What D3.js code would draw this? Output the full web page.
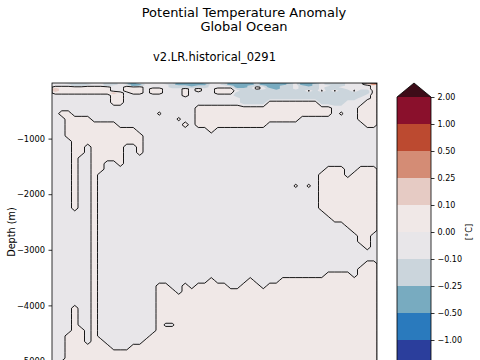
<!DOCTYPE html>
<html><head><meta charset="utf-8">
<script src="https://cdn.jsdelivr.net/npm/d3@7"></script>
<style>body{margin:0;background:#fff}svg{display:block;font-family:"DejaVu Sans",sans-serif}</style>
</head><body><svg id="c" width="480" height="360"></svg>
<script>
const titleLines = ["Potential Temperature Anomaly", "Global Ocean"];
const subtitle = "v2.LR.historical_0291";
const yLabel = "Depth (m)";
const cbLabel = "[°C]";
const levels = [-2, -1, -0.5, -0.25, -0.1, 0, 0.1, 0.25, 0.5, 1, 2];
const bandColors = ["#2b3e9c", "#2a7abd", "#78abc0", "#cbd5dc", "#e8e6e9", "#f0e8e7", "#e6cbc4", "#d48c75", "#bc4a30", "#8a102c"];
const extendColor = "#3d0c18";
const depthTicks = [-1000, -2000, -3000, -4000, -5000];
const depthMax = 5360;
// layer boundaries (m) of the gridded anomaly rows
const depthEdges = [0,10,20,40,60,90,120,160,200,250,300,400,500,600,700,800,900,1000,1100,1200,1300,1400,1500,1600,1700,1800,1900,2000,2100,2200,2300,2400,2500,2600,2700,2800,2900,3000,3100,3200,3300,3400,3500,3600,3700,3800,3900,4000,4100,4200,4300,4400,4500,4600,4700,4800,4900,5000,5100];
// anomaly class codes (°C)
const codeValues = {g: -0.05, h: -0.02, q: 0.02, p: 0.05, r: 0.17, R: 0.35, b: -0.17, B: -0.35};
const G = "gggggggggg", P = "pppppppppp";
// one string per depth layer, one character per time bin (50 bins)
const anomalyRows = [
"gggbbbggbb"+"ggBggggggB"+"BBBBgggBBB"+"BgBBBBBgBB"+"BgbbbgggrR",
"ggbbbgggbb"+"gBBbgggbbB"+"BBBbggbBBB"+"BbBBBBbgBB"+"bgbbbgggrR",
"gggbbbggbb"+"ggBBggggbB"+"BBBBggbBBB"+"BbBBBBbgBB"+"bgbbbgggpR",
"gggbbgggbg"+"ggBbggggbb"+"bBbbgggbBB"+"bbbBBbbgbB"+"bggbbggggp",
"pppppppppg"+"gpppggggbb"+"bbbbggggBB"+"bpgBBbbgbb"+"bgbbgggggp",
"rppppppppg"+"gpppgppggg"+"pgpggpppbb"+"bpgbBbbgbb"+"bgbbbggggp",
"rppppppppg"+"gpppgppggg"+"pgpggpppgb"+"bbbbbbbbbq"+"bqbqbbqbbp",
"pppppppppr"+"pgppgppggg"+"pggggpppbb"+"bbbbbbbbbb"+"bbbbbbbbbp",
"gggggggggp"+"pggggggggg"+"pgggggggbb"+"bbbbbbbbbb"+"bbbbbbbbgp",
"gggggggggp"+"pggggggggg"+"gggggggggb"+"bbbbbbbbbb"+"bbbbbbbggp",
"gggggggggp"+"pggggggggg"+"gggggggggb"+"bbbppppppp"+"pbbbbgggpp",
"gggggggggg"+"gggggggggg"+"ggpppppppp"+"pppppppppp"+"pppggggppp",
"gppggggggg"+"ggggggqggg"+"ggpppppppp"+"pppppppppp"+"pppgqggppp",
"ggppppgggg"+"gggggggggq"+"ggpppppppp"+"ppppppppgg"+"gggggggppp",
"ggpppppppp"+"gggggggggg"+"pgpppppppp"+"pppggggggg"+"ggggggggpp",
"ggpppppppp"+"pppggggggg"+"ggggpggggg"+G+G,
"ggpppppppp"+"ppppgggggg"+G+G+G,
"gggppppppp"+"ppppgggggg"+G+G+G,
"gggppgpppp"+"pggpgggggg"+G+G+G,
"gggppgpppp"+"pggpgggggg"+G+G+G,
"gggpggpppp"+"pggggggggg"+G+G+G,
"gggpggppgg"+"pggggggggg"+G+G+G,
"gggpggppgg"+G+G+G+"ggpppggppp",
"gggpggpggg"+G+G+G+"gppppgpppp",
"gggpggpggg"+G+G+G+"gppppppppp",
"gggpggpggg"+G+G+"gggggggqgq"+"gppppppppp",
"gggpggpggg"+G+G+G+"gppppppppp",
"gggpggpggg"+G+G+G+"gppppppppp",
"gggpggpggg"+G+G+G+"gppppppppp",
"gggpggpggg"+G+G+G+"gppppppppp",
"ggggggpggg"+G+G+G+"ggpppppppp",
"ggggggpggg"+G+G+G+"gggppppppp",
"ggggggpggg"+G+G+G+"gggggppppp",
"ggggggpggg"+G+G+G+"ggggggpppp",
"ggggggpggg"+G+G+G+"gggggggppg",
"ggggggpggg"+G+G+G+"gggggggppg",
"ggggggpggg"+G+G+G+"ggggggggpg",
"ggggggpggg"+G+G+G+G,
"ggggggpggg"+G+G+G+G,
"ggggggpggg"+G+G+G+"ggggggggpp",
"ggggggpggg"+G+G+G+"gggggggppp",
"ggggggpggg"+G+G+G+"ggppppgppp",
"ggggggpggg"+G+"ggggpggggg"+"pggggppppp"+P,
"ggggggpggg"+"ggggggppgg"+"pgpppppggp"+"ppgppppppp"+P,
"ggggggpggg"+"ggggggpppg"+P+P+P,
"ggggggpggg"+"ggggggpppp"+P+P+P,
"ggggggpggg"+"ggggggpppp"+P+P+P,
"gggpggpggg"+"ggggggpppp"+P+P+P,
"gggpggpggg"+"ggggggpppp"+P+P+P,
"gggpggpggg"+"ggggggpppp"+P+P+P,
"gggpggpggg"+"ggggggphhp"+P+P+P,
"gggppgpggg"+"ggggggpppp"+P+P+P,
"ggpppgpggg"+"gggggppppp"+P+P+P,
"ggpppgppgg"+"ggggpppppp"+P+P+P,
"ggpppppppg"+"ggpppppppp"+P+P+P,
"ggpppppppp"+P+P+P+P,
"ggpppppppp"+P+P+P+P,
"gppppppppp"+P+P+P+P
];
</script>
<script>
const nx = 50, ny = anomalyRows.length;
const bad = anomalyRows.map((r, i) => [i, r.length]).filter(d => d[1] !== nx);
if (bad.length) throw new Error("bad rows " + JSON.stringify(bad));
if (depthEdges.length !== ny + 1) throw new Error("edges " + depthEdges.length + " rows " + ny);
const values = [];
anomalyRows.forEach(r => { for (const ch of r) values.push(codeValues[ch]); });

const svg = d3.select("#c");
const x0 = 52, x1 = 377, y0 = 83, y1 = 381;
const colX = d3.scaleLinear().domain([0, nx]).range([x0, x1]);
const yScale = d3.scaleLinear().domain([-depthMax, 0]).range([y1, y0]);
const rowDepth = d3.scaleLinear().domain(d3.range(ny + 1)).range(depthEdges);
const proj = d3.geoTransform({point(x, y) { this.stream.point(colX(x), yScale(-rowDepth(y))); }});
const path = d3.geoPath(proj);

svg.append("clipPath").attr("id", "pc").append("rect")
  .attr("x", x0).attr("y", y0).attr("width", x1 - x0).attr("height", y1 - y0);
const plot = svg.append("g").attr("clip-path", "url(#pc)");
const fillColors = bandColors.concat([extendColor]);
const filled = d3.contours().size([nx, ny]).thresholds(levels)(values);
plot.selectAll("path.f").data(filled).join("path").attr("class", "f")
  .attr("d", path).attr("fill", (d, i) => fillColors[i]).attr("stroke", "none");
const zeroLine = d3.contours().size([nx, ny]).thresholds([0])(values);
plot.selectAll("path.z").data(zeroLine).join("path").attr("class", "z")
  .attr("d", path).attr("fill", "none").attr("stroke", "#000").attr("stroke-width", 0.9);

svg.append("rect").attr("x", x0).attr("y", y0).attr("width", x1 - x0).attr("height", y1 - y0)
  .attr("fill", "none").attr("stroke", "#000").attr("stroke-width", 0.8);

const yAxis = svg.append("g").attr("transform", `translate(${x0},0)`)
  .call(d3.axisLeft(yScale).tickValues(depthTicks).tickSize(3.5).tickPadding(3.5).tickFormat(d3.format("d")));
yAxis.select(".domain").remove();
yAxis.selectAll("text").attr("font-size", 8.3).attr("font-family", "DejaVu Sans").attr("fill", "#000");
yAxis.selectAll("line").attr("stroke", "#000").attr("stroke-width", 0.8);

svg.append("text").attr("transform", "translate(15,232) rotate(-90)").attr("text-anchor", "middle")
  .attr("font-size", 9.7).text(yLabel);

svg.selectAll("text.t").data(titleLines).join("text").attr("class", "t")
  .attr("x", 244).attr("y", (d, i) => 16.5 + i * 14.7).attr("text-anchor", "middle")
  .attr("font-size", 13).text(d => d);
svg.append("text").attr("x", 214.5).attr("y", 60.5).attr("text-anchor", "middle")
  .attr("font-size", 11.5).text(subtitle);

// colorbar
const cbx0 = 397, cbx1 = 431;
const cbY = d3.scalePoint().domain(levels).range([367, 97]);
const cb = svg.append("g");
cb.selectAll("rect").data(d3.range(levels.length - 1)).join("rect")
  .attr("x", cbx0).attr("width", cbx1 - cbx0)
  .attr("y", k => cbY(levels[k + 1])).attr("height", k => cbY(levels[k]) - cbY(levels[k + 1]))
  .attr("fill", k => bandColors[k]);
const cbTop = cbY(levels[levels.length - 1]);
const cbBot = cbY(levels[0]);
const cbMid = (cbx0 + cbx1) / 2;
cb.append("path").attr("d", `M${cbx0},${cbTop}L${cbMid},${cbTop - 14}L${cbx1},${cbTop}Z`).attr("fill", extendColor);
cb.append("path").attr("d", `M${cbx0},${cbBot}L${cbx0},${cbTop}L${cbMid},${cbTop - 14}L${cbx1},${cbTop}L${cbx1},${cbBot}Z`)
  .attr("fill", "none").attr("stroke", "#000").attr("stroke-width", 0.8);
const cbAxis = svg.append("g").attr("transform", `translate(${cbx1},0)`)
  .call(d3.axisRight(cbY).tickValues(levels).tickSize(3.5).tickPadding(3).tickFormat(d3.format(".2f")));
cbAxis.select(".domain").remove();
cbAxis.selectAll("text").attr("font-size", 8).attr("font-family", "DejaVu Sans").attr("fill", "#000");
cbAxis.selectAll("line").attr("stroke", "#000").attr("stroke-width", 0.8);
svg.append("text").attr("transform", "translate(472,232) rotate(-90)").attr("text-anchor", "middle")
  .attr("font-size", 8.3).text(cbLabel);
</script>
</body></html>
